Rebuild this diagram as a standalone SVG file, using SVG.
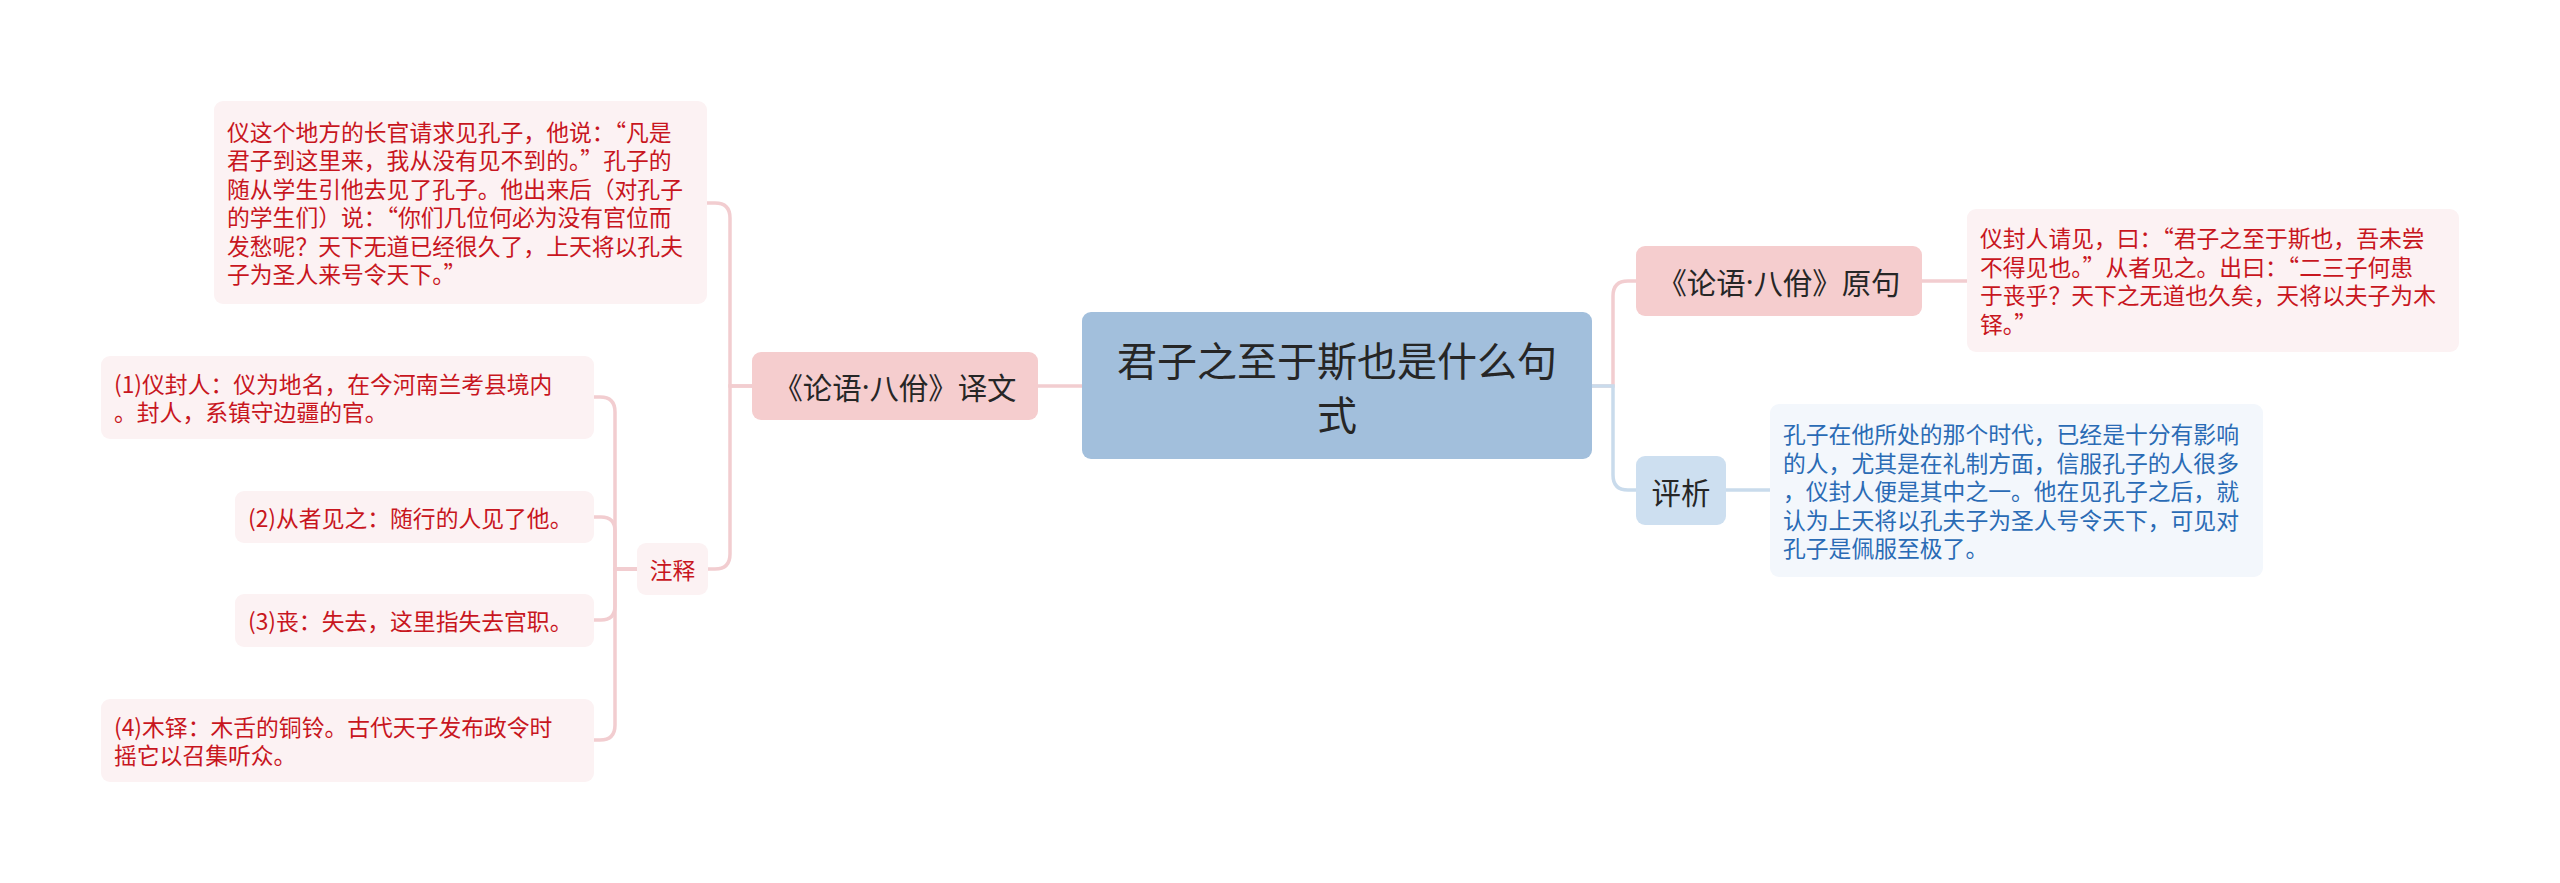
<svg xmlns="http://www.w3.org/2000/svg" width="2560" height="883" viewBox="0 0 2560 883">
<style>
text { font-family: "Noto Sans CJK SC", "Noto Sans", sans-serif; dominant-baseline: central; }
.dot { font-family: "Noto Sans", "Liberation Sans", sans-serif; }
.main { fill: #a2bfdc; }
.pk { fill: #f5cdce; }
.bl { fill: #cddff0; }
.dpk { fill: #fcf2f3; }
.dbl { fill: #f3f7fc; }
.tmain { font-size: 40px; fill: #262626; text-anchor: middle; }
.tbr { font-size: 29.4px; fill: #262626; text-anchor: middle; }
.tr { font-size: 22.8px; fill: #c8161e; }
.tb { font-size: 22.8px; fill: #2a6bb5; }
.cp { fill: none; stroke: #f2cdd0; stroke-width: 3.5; stroke-linecap: round; }
.cb { fill: none; stroke: #c9dbec; stroke-width: 3.5; stroke-linecap: round; }
</style>
<rect width="2560" height="883" fill="#ffffff"/>
<g id="connectors">
  <path class="cp" d="M1082,386 H1038"/>
  <path class="cp" d="M752,386 H730 V218 Q730,203 715,203 H707"/>
  <path class="cp" d="M752,386 H730 V554 Q730,569 715,569 H708"/>
  <path class="cp" d="M637,569 H615 V412 Q615,397 600,397 H594"/>
  <path class="cp" d="M637,569 H615 V531 Q615,517 601,517 H594"/>
  <path class="cp" d="M637,569 H615 V606 Q615,620 601,620 H594"/>
  <path class="cp" d="M637,569 H615 V725 Q615,740 600,740 H594"/>
  <path class="cp" d="M1592,386 H1613 V296 Q1613,281 1628,281 H1636"/>
  <path class="cb" d="M1592,386 H1613 V475 Q1613,490 1628,490 H1636"/>
  <path class="cp" d="M1922,281 H1967"/>
  <path class="cb" d="M1726,490 H1770"/>
</g>
<g id="central">
  <rect class="main" x="1082" y="312" width="510" height="147" rx="9"/>
  <text class="tmain" x="1337" y="359">君子之至于斯也是什么句</text>
  <text class="tmain" x="1337" y="413">式</text>
</g>
<g id="yiwen">
  <rect class="pk" x="752" y="352" width="286" height="68" rx="9"/>
  <text class="tbr" x="895" y="386">《论语<tspan class="dot">·</tspan>八佾》译文</text>
</g>
<g id="yiwen-detail">
  <rect class="dpk" x="214" y="101" width="493" height="203" rx="9"/>
  <text class="tr" x="227" y="131.25">仪这个地方的长官请求见孔子，他说：“凡是</text>
  <text class="tr" x="227" y="159.75">君子到这里来，我从没有见不到的。”孔子的</text>
  <text class="tr" x="227" y="188.25">随从学生引他去见了孔子。他出来后（对孔子</text>
  <text class="tr" x="227" y="216.75">的学生们）说：“你们几位何必为没有官位而</text>
  <text class="tr" x="227" y="245.25">发愁呢？天下无道已经很久了，上天将以孔夫</text>
  <text class="tr" x="227" y="273.75">子为圣人来号令天下。”</text>
</g>
<g id="zhushi">
  <rect class="dpk" x="637" y="543" width="71" height="52" rx="9"/>
  <text class="tr" x="672.5" y="569" text-anchor="middle">注释</text>
</g>
<g id="note1">
  <rect class="dpk" x="101" y="356" width="493" height="83" rx="9"/>
  <text class="tr" x="114" y="383.25">(1)仪封人：仪为地名，在今河南兰考县境内</text>
  <text class="tr" x="114" y="411.75">。封人，系镇守边疆的官。</text>
</g>
<g id="note2">
  <rect class="dpk" x="235" y="491" width="359" height="52" rx="9"/>
  <text class="tr" x="248" y="517">(2)从者见之：随行的人见了他。</text>
</g>
<g id="note3">
  <rect class="dpk" x="235" y="594" width="359" height="53" rx="9"/>
  <text class="tr" x="248" y="620.5">(3)丧：失去，这里指失去官职。</text>
</g>
<g id="note4">
  <rect class="dpk" x="101" y="699" width="493" height="83" rx="9"/>
  <text class="tr" x="114" y="726.25">(4)木铎：木舌的铜铃。古代天子发布政令时</text>
  <text class="tr" x="114" y="754.75">摇它以召集听众。</text>
</g>
<g id="yuanju">
  <rect class="pk" x="1636" y="246" width="286" height="70" rx="9"/>
  <text class="tbr" x="1779" y="281">《论语<tspan class="dot">·</tspan>八佾》原句</text>
</g>
<g id="yuanju-detail">
  <rect class="dpk" x="1967" y="209" width="492" height="143" rx="9"/>
  <text class="tr" x="1980" y="237.75">仪封人请见，曰：“君子之至于斯也，吾未尝</text>
  <text class="tr" x="1980" y="266.25">不得见也。”从者见之。出曰：“二三子何患</text>
  <text class="tr" x="1980" y="294.75">于丧乎？天下之无道也久矣，天将以夫子为木</text>
  <text class="tr" x="1980" y="323.25">铎。”</text>
</g>
<g id="pingxi">
  <rect class="bl" x="1636" y="456" width="90" height="69" rx="9"/>
  <text class="tbr" x="1681" y="490.5">评析</text>
</g>
<g id="pingxi-detail">
  <rect class="dbl" x="1770" y="404" width="493" height="173" rx="9"/>
  <text class="tb" x="1783" y="433.5">孔子在他所处的那个时代，已经是十分有影响</text>
  <text class="tb" x="1783" y="462">的人，尤其是在礼制方面，信服孔子的人很多</text>
  <text class="tb" x="1783" y="490.5">，仪封人便是其中之一。他在见孔子之后，就</text>
  <text class="tb" x="1783" y="519">认为上天将以孔夫子为圣人号令天下，可见对</text>
  <text class="tb" x="1783" y="547.5">孔子是佩服至极了。</text>
</g>
</svg>
